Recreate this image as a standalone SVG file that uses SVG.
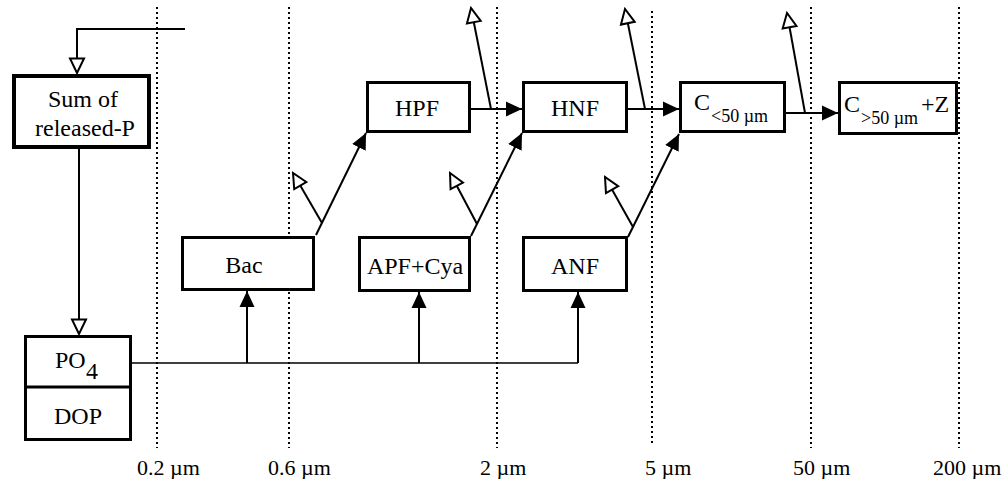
<svg xmlns="http://www.w3.org/2000/svg" width="1005" height="479" viewBox="0 0 1005 479">
<style>
.box{fill:#fff;stroke:#000;stroke-width:3}
.thick{stroke-width:4}
.lbl{font-family:"Liberation Serif","Times New Roman",serif;font-size:24px;fill:#000}
.sub{font-family:"Liberation Serif","Times New Roman",serif;font-size:18px;fill:#000}
.axis{font-family:"Liberation Serif","Times New Roman",serif;font-size:22px;fill:#000}
.dot{stroke:#000;stroke-width:2;stroke-dasharray:2 3;fill:none}
.c{stroke:#000;stroke-width:2;fill:none}
.cf{stroke:#000;stroke-width:2;fill:none;marker-end:url(#fill)}
.ch{stroke:#000;stroke-width:2;fill:none;marker-end:url(#hollow)}
</style>
<defs>
<marker id="fill" markerUnits="userSpaceOnUse" viewBox="0 0 16 16" refX="16" refY="8" markerWidth="16" markerHeight="16" orient="auto">
<path d="M0,0.5 L16,8 L0,15.5 z" fill="#000"/>
</marker>
<marker id="hollow" markerUnits="userSpaceOnUse" viewBox="0 0 18 18" refX="16" refY="9" markerWidth="18" markerHeight="18" orient="auto">
<path d="M1.5,2 L16,9 L1.5,16 z" fill="#fff" stroke="#000" stroke-width="2"/>
</marker>
</defs>
<rect width="1005" height="479" fill="#fff"/>
<g id="grid">
<line class="dot" x1="157" y1="7" x2="157" y2="448"/>
<line class="dot" x1="289" y1="7" x2="289" y2="448"/>
<line class="dot" x1="497" y1="7" x2="497" y2="448"/>
<line class="dot" x1="652" y1="11" x2="652" y2="446"/>
<line class="dot" x1="811" y1="7" x2="811" y2="448"/>
<line class="dot" x1="959" y1="7" x2="959" y2="448"/>
<text class="axis" x="137" y="475">0.2 µm</text>
<text class="axis" x="268" y="475">0.6 µm</text>
<text class="axis" x="480" y="475">2 µm</text>
<text class="axis" x="645" y="475">5 µm</text>
<text class="axis" x="793" y="475">50 µm</text>
<text class="axis" x="933" y="475">200 µm</text>
</g>
<g id="connectors">
<polyline class="ch" points="185,29 77,29 77,73"/>
<line class="ch" x1="79" y1="149" x2="79" y2="334"/>
<line class="c" x1="132" y1="363" x2="578" y2="363" style="stroke-width:1.5"/>
<line class="cf" x1="247" y1="363" x2="247" y2="291"/>
<line class="cf" x1="419" y1="363" x2="419" y2="292"/>
<line class="cf" x1="578" y1="363" x2="578" y2="292"/>
<line class="cf" x1="316" y1="235" x2="366" y2="133"/>
<line class="ch" x1="322" y1="223" x2="293" y2="173"/>
<line class="cf" x1="471" y1="236" x2="522" y2="133"/>
<line class="ch" x1="477" y1="224" x2="450" y2="173"/>
<line class="cf" x1="628" y1="237" x2="679" y2="134"/>
<line class="ch" x1="633" y1="227" x2="605" y2="177"/>
<line class="cf" x1="471" y1="109" x2="522" y2="109"/>
<line class="ch" x1="491" y1="109" x2="471" y2="8"/>
<line class="cf" x1="628" y1="109" x2="679" y2="109"/>
<line class="ch" x1="645" y1="109" x2="625" y2="9"/>
<line class="cf" x1="786" y1="113" x2="838" y2="113"/>
<line class="ch" x1="805" y1="113" x2="787" y2="13"/>
</g>
<g id="sum">
<rect class="box thick" x="14" y="76" width="135" height="71"/>
<text class="lbl" x="83" y="107" text-anchor="middle">Sum of</text>
<text class="lbl" x="85" y="136" text-anchor="middle">released-P</text>
</g>
<g id="po4dop">
<rect class="box" x="25.5" y="336.5" width="105" height="103"/>
<line class="c" x1="25" y1="387" x2="131" y2="387" style="stroke-width:3"/>
<text class="lbl" x="55" y="368">PO</text>
<text class="lbl" x="86" y="379">4</text>
<text class="lbl" x="78" y="424" text-anchor="middle">DOP</text>
</g>
<g id="bac">
<rect class="box" x="182.5" y="237.5" width="131" height="52"/>
<text class="lbl" x="244" y="273" text-anchor="middle">Bac</text>
</g>
<g id="apf">
<rect class="box" x="359.5" y="237.5" width="110" height="53"/>
<text class="lbl" x="415" y="274" text-anchor="middle">APF+Cya</text>
</g>
<g id="anf">
<rect class="box" x="523.5" y="237.5" width="103" height="53"/>
<text class="lbl" x="575" y="274" text-anchor="middle">ANF</text>
</g>
<g id="hpf">
<rect class="box" x="367.5" y="82.5" width="102" height="49"/>
<text class="lbl" x="417" y="116" text-anchor="middle">HPF</text>
</g>
<g id="hnf">
<rect class="box" x="523.5" y="82.5" width="103" height="49"/>
<text class="lbl" x="575" y="116" text-anchor="middle">HNF</text>
</g>
<g id="csmall">
<rect class="box" x="680.5" y="82.5" width="104" height="49"/>
<text class="lbl" x="694" y="110">C</text>
<text class="sub" x="711" y="122">&lt;50 µm</text>
</g>
<g id="clarge">
<rect class="box" x="839.5" y="82.5" width="117" height="51"/>
<text class="lbl" x="844" y="112">C</text>
<text class="sub" x="861" y="124">&gt;50 µm</text>
<text class="lbl" x="921" y="112">+Z</text>
</g>
</svg>
